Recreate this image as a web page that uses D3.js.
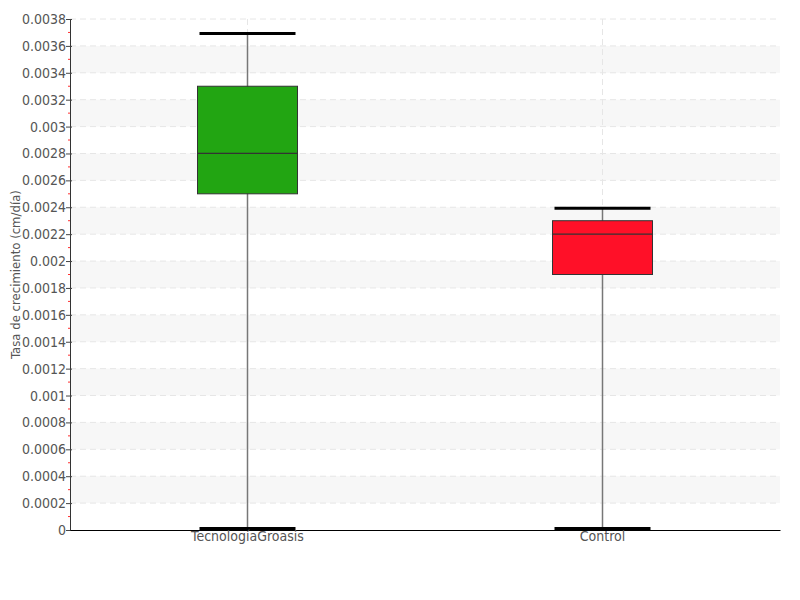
<!DOCTYPE html>
<html><head><meta charset="utf-8">
<script src="https://cdn.jsdelivr.net/npm/d3@7"></script>
<style>
body{margin:0;background:#fff;}
text{font-family:"DejaVu Sans Condensed","DejaVu Sans",sans-serif;font-stretch:condensed;}
</style></head>
<body><svg id="c" width="800" height="600"></svg>
<script>
const categories = ["TecnologíaGroasis", "Control"];
const mins = [0, 0];
const q1s = [0.0025, 0.0019];
const medians = [0.0028, 0.0022];
const q3s = [0.0033, 0.0023];
const maxs = [0.0037, 0.0024];
const colors = ["#22a512", "#ff1028"];
const yTicks = [0,0.0002,0.0004,0.0006,0.0008,0.001,0.0012,0.0014,0.0016,0.0018,0.002,0.0022,0.0024,0.0026,0.0028,0.003,0.0032,0.0034,0.0036,0.0038];
const yLabel = "Tasa de crecimiento (cm/día)";

const svg = d3.select("#c");
const L=70,R=780,T=19,B=530;
const x = d3.scaleBand().domain(categories).range([L,R]);
const y = d3.scaleLinear().domain([0,0.0038]).range([B,T]);

// bands
const bands = [];
for(let i=1;i<yTicks.length-1;i+=2) bands.push([yTicks[i],yTicks[i+1]]);
svg.append("g").selectAll("rect").data(bands).join("rect")
  .attr("x",L).attr("width",R-L)
  .attr("y",d=>y(d[1])).attr("height",d=>y(d[0])-y(d[1]))
  .attr("fill","#f7f7f7");

// horizontal grid
svg.append("g").selectAll("line").data(yTicks.slice(1)).join("line")
  .attr("x1",L).attr("x2",R).attr("y1",d=>y(d)).attr("y2",d=>y(d))
  .attr("stroke","#e6e6e6").attr("stroke-dasharray","6,4");
// vertical grid
svg.append("g").selectAll("line").data(categories).join("line")
  .attr("x1",d=>x(d)+x.bandwidth()/2).attr("x2",d=>x(d)+x.bandwidth()/2)
  .attr("y1",T).attr("y2",B)
  .attr("stroke","#e6e6e6").attr("stroke-dasharray","6,4");

// minor ticks red
const minor = yTicks.slice(0,-1).map((d,i)=>(d+yTicks[i+1])/2);
svg.append("g").selectAll("line").data(minor).join("line")
  .attr("x1",L-2).attr("x2",L).attr("y1",d=>y(d)).attr("y2",d=>y(d))
  .attr("stroke","#ff3030").attr("stroke-width",1);

// y axis
const yAxis = d3.axisLeft(y).tickValues(yTicks).tickFormat(d=>String(+d.toPrecision(6))).tickSize(4).tickSizeOuter(0);
const gy = svg.append("g").attr("transform",`translate(${L},0)`).call(yAxis);
gy.select(".domain").attr("stroke","#333");
gy.selectAll(".tick line").attr("stroke","#444").attr("x2",-4).attr("x1",2);
gy.selectAll(".tick text").attr("fill","#555").attr("font-size",14).attr("x",-4);

// boxes
const bw = 100, cw = 96;
const g = svg.append("g");
categories.forEach((c,i)=>{
  const cx = x(c)+x.bandwidth()/2;
  g.append("line").attr("x1",cx).attr("x2",cx).attr("y1",y(maxs[i])).attr("y2",y(mins[i]))
    .attr("stroke","#777").attr("stroke-width",1.5);
  g.append("rect").attr("x",cx-bw/2).attr("width",bw)
    .attr("y",y(q3s[i])).attr("height",y(q1s[i])-y(q3s[i]))
    .attr("fill",colors[i]).attr("stroke","#333").attr("stroke-width",1);
  g.append("line").attr("x1",cx-bw/2).attr("x2",cx+bw/2).attr("y1",y(medians[i])).attr("y2",y(medians[i]))
    .attr("stroke","#333").attr("stroke-width",1.2);
  [maxs[i],mins[i]].forEach(v=>{
    const off = v===0 ? -1.5 : 1;
    g.append("line").attr("x1",cx-cw/2).attr("x2",cx+cw/2).attr("y1",y(v)+off).attr("y2",y(v)+off)
      .attr("stroke","#000").attr("stroke-width",3);
  });
});

// x axis
const gx = svg.append("g").attr("transform",`translate(0,${B})`).call(d3.axisBottom(x).tickSize(0));
gx.select(".domain").attr("stroke","#000").attr("stroke-width",1.2);
gx.selectAll(".tick text").attr("fill","#555").attr("font-size",14).attr("dy","0.6em");

svg.append("text").attr("transform",`translate(20,${(T+B)/2}) rotate(-90)`)
  .attr("text-anchor","middle").attr("fill","#555").attr("font-size",13).text(yLabel);
</script></body></html>
